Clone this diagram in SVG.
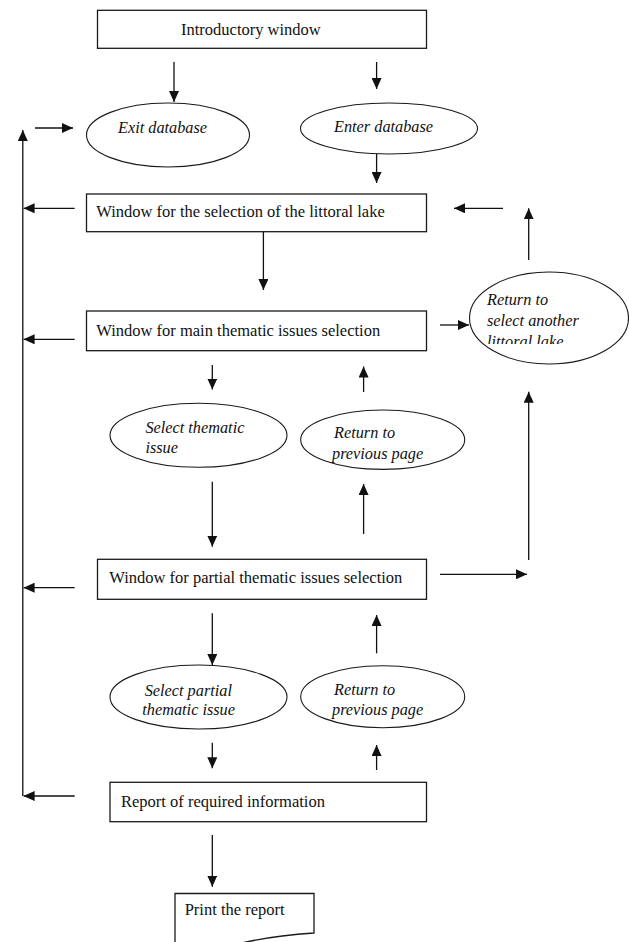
<svg xmlns="http://www.w3.org/2000/svg" width="629" height="942" viewBox="0 0 629 942">
<style>
.box{fill:#fff;stroke:#1a1a1a;stroke-width:1.3}
.ell{fill:#fff;stroke:#1a1a1a;stroke-width:1.1}
.t{font-family:"Liberation Serif","Times New Roman",serif;font-size:16.5px;fill:#111}
.i{font-family:"Liberation Serif","Times New Roman",serif;font-size:16.3px;font-style:italic;fill:#111}
.c line,.c polyline{stroke:#111;stroke-width:1.3;fill:none}
</style>
<defs>
<marker id="ah" markerUnits="userSpaceOnUse" markerWidth="11" markerHeight="10" refX="11" refY="5" orient="auto">
<path d="M0,0 L11,5 L0,10 z" fill="#111"/>
</marker>
<clipPath id="clipLake"><rect x="440" y="250" width="189" height="94"/></clipPath>
</defs>
<rect width="629" height="942" fill="#fff"/>

<g class="c" id="connectors">
<line x1="174" y1="62" x2="174" y2="102" marker-end="url(#ah)"/>
<line x1="376.6" y1="62" x2="376.6" y2="89" marker-end="url(#ah)"/>
<line x1="376.6" y1="154" x2="376.6" y2="183" marker-end="url(#ah)"/>
<line x1="35" y1="128" x2="73" y2="128" marker-end="url(#ah)"/>
<line x1="22.8" y1="796" x2="22.8" y2="130" marker-end="url(#ah)"/>
<line x1="74.7" y1="208.3" x2="23.6" y2="208.3" marker-end="url(#ah)"/>
<line x1="503" y1="208.3" x2="454" y2="208.3" marker-end="url(#ah)"/>
<line x1="528.7" y1="260" x2="528.7" y2="208.3" marker-end="url(#ah)"/>
<line x1="263.4" y1="232" x2="263.4" y2="290" marker-end="url(#ah)"/>
<line x1="74.7" y1="339.3" x2="23.6" y2="339.3" marker-end="url(#ah)"/>
<line x1="440" y1="325" x2="469" y2="325" marker-end="url(#ah)"/>
<line x1="212.3" y1="365" x2="212.3" y2="389.5" marker-end="url(#ah)"/>
<line x1="363.6" y1="392" x2="363.6" y2="366.5" marker-end="url(#ah)"/>
<line x1="212.3" y1="481.7" x2="212.3" y2="546.7" marker-end="url(#ah)"/>
<line x1="363.6" y1="534" x2="363.6" y2="484" marker-end="url(#ah)"/>
<line x1="528.7" y1="560" x2="528.7" y2="391.7" marker-end="url(#ah)"/>
<line x1="74.7" y1="587.7" x2="23.6" y2="587.7" marker-end="url(#ah)"/>
<line x1="440" y1="574.3" x2="527" y2="574.3" marker-end="url(#ah)"/>
<line x1="212.3" y1="613.3" x2="212.3" y2="665" marker-end="url(#ah)"/>
<line x1="376.6" y1="653.3" x2="376.6" y2="615" marker-end="url(#ah)"/>
<line x1="212.3" y1="742.7" x2="212.3" y2="768.3" marker-end="url(#ah)"/>
<line x1="376.6" y1="770" x2="376.6" y2="745" marker-end="url(#ah)"/>
<line x1="74.7" y1="796" x2="23.6" y2="796" marker-end="url(#ah)"/>
<line x1="212.3" y1="835" x2="212.3" y2="886.7" marker-end="url(#ah)"/>
</g>

<g id="intro">
<rect class="box" x="97.5" y="10.3" width="329" height="38"/>
<text class="t" x="181" y="35">Introductory window</text>
</g>
<g id="exit">
<ellipse class="ell" cx="168" cy="135" rx="81.5" ry="32"/>
<text class="i" x="118" y="133">Exit database</text>
</g>
<g id="enter">
<ellipse class="ell" cx="389" cy="128.5" rx="88.5" ry="25.5"/>
<text class="i" x="334" y="132">Enter database</text>
</g>
<g id="lakeWindow">
<rect class="box" x="86.5" y="194" width="340" height="37.7"/>
<text class="t" x="96.3" y="216.7">Window for the selection of the littoral lake</text>
</g>
<g id="mainWindow">
<rect class="box" x="86.5" y="311" width="340" height="39.7"/>
<text class="t" x="96.3" y="335.7">Window for main thematic issues selection</text>
</g>
<g id="returnLake">
<ellipse class="ell" cx="549" cy="318" rx="79.5" ry="46"/>
<text class="i" x="487" y="305">Return to</text>
<text class="i" x="487" y="325.7">select another</text>
<text class="i" x="487" y="346.5" clip-path="url(#clipLake)">littoral lake</text>
</g>
<g id="selectThematic">
<ellipse class="ell" cx="198.5" cy="435.3" rx="88.5" ry="32"/>
<text class="i" x="145.4" y="433.3">Select thematic</text>
<text class="i" x="145.4" y="452.7">issue</text>
</g>
<g id="returnPrev1">
<ellipse class="ell" cx="382.7" cy="439.7" rx="82" ry="29.7"/>
<text class="i" x="334" y="438.3">Return to</text>
<text class="i" x="332" y="459">previous page</text>
</g>
<g id="partialWindow">
<rect class="box" x="97.5" y="559.3" width="329" height="40"/>
<text class="t" x="109.3" y="583.3">Window for partial thematic issues selection</text>
</g>
<g id="selectPartial">
<ellipse class="ell" cx="198.5" cy="697" rx="88.5" ry="32"/>
<text class="i" x="144.7" y="695.7">Select partial</text>
<text class="i" x="142.3" y="715">thematic issue</text>
</g>
<g id="returnPrev2">
<ellipse class="ell" cx="382.7" cy="696.7" rx="82" ry="31"/>
<text class="i" x="334" y="695">Return to</text>
<text class="i" x="332" y="715">previous page</text>
</g>
<g id="report">
<rect class="box" x="110" y="782.3" width="316.5" height="39.4"/>
<text class="t" x="121" y="807.3">Report of required information</text>
</g>
<g id="print">
<path class="box" d="M175,950 L175,893.5 L314,893.5 L314,933 C292,934.5 264,938 244,942.5"/>
<text class="t" x="184.7" y="915">Print the report</text>
</g>
</svg>
